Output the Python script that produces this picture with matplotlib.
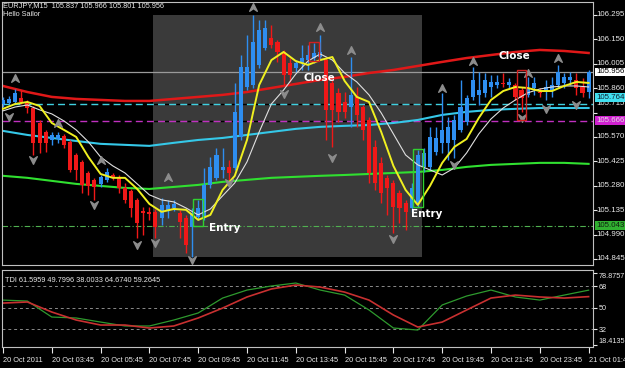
import numpy as np
import matplotlib
matplotlib.use("Agg")
import matplotlib.pyplot as plt
from matplotlib.path import Path
from matplotlib.patches import Rectangle

# EURJPY M15 candles, 20 Oct 2011 01:45 -> 21 Oct 01:45
opens = [105.766, 105.772, 105.778, 105.802, 105.778, 105.742, 105.653, 105.600, 105.552, 105.558,
         105.576, 105.541, 105.463, 105.422, 105.356, 105.315, 105.291, 105.315, 105.344, 105.333,
         105.267, 105.249, 105.196, 105.131, 105.125, 105.125, 105.089, 105.137, 105.148, 105.119,
         105.089, 105.035, 105.095, 105.089, 105.285, 105.327, 105.374, 105.392, 105.386, 105.570,
         105.867, 105.879, 105.998, 106.099, 106.158, 106.134, 106.075, 106.010, 105.980, 106.010,
         106.027, 106.039, 106.045, 106.027, 105.891, 105.832, 105.778, 105.748, 105.808, 105.748,
         105.671, 105.511, 105.416, 105.327, 105.297, 105.238, 105.178, 105.148, 105.178, 105.392,
         105.392, 105.481, 105.535, 105.535, 105.552, 105.612, 105.659, 105.808, 105.820, 105.832,
         105.867, 105.879, 105.891, 105.879, 105.879, 105.849, 105.820, 105.861, 105.837, 105.837,
         105.849, 105.879, 105.891, 105.909, 105.909, 105.867, 105.837]
highs = [105.808, 105.814, 105.855, 105.849, 105.790, 105.754, 105.671, 105.612, 105.600, 105.600,
         105.588, 105.552, 105.475, 105.434, 105.368, 105.327, 105.344, 105.386, 105.356, 105.344,
         105.297, 105.261, 105.208, 105.154, 105.154, 105.142, 105.208, 105.196, 105.196, 105.137,
         105.107, 105.148, 105.196, 105.386, 105.451, 105.505, 105.505, 105.434, 105.891, 106.057,
         106.176, 106.295, 106.265, 106.265, 106.236, 106.146, 106.087, 106.039, 106.027, 106.117,
         106.117, 106.128, 106.176, 106.045, 105.909, 105.861, 105.837, 106.045, 105.867, 105.760,
         105.689, 105.552, 105.451, 105.344, 105.315, 105.255, 105.196, 105.297, 105.493, 105.505,
         105.630, 105.630, 105.832, 105.689, 105.701, 105.909, 105.820, 105.986, 105.956, 105.950,
         105.939, 105.939, 105.950, 105.921, 105.891, 105.867, 105.927, 105.927, 105.861, 105.909,
         105.927, 105.998, 105.950, 105.956, 105.950, 105.921, 105.966]
lows = [105.748, 105.760, 105.766, 105.766, 105.713, 105.463, 105.475, 105.481, 105.523, 105.535,
        105.505, 105.362, 105.315, 105.238, 105.226, 105.196, 105.273, 105.303, 105.315, 105.238,
        105.178, 105.095, 104.970, 104.988, 105.077, 104.970, 105.047, 105.089, 105.131, 104.970,
        104.880, 104.857, 105.077, 105.077, 105.267, 105.315, 105.327, 105.315, 105.374, 105.552,
        105.849, 105.861, 105.980, 106.087, 106.099, 106.016, 105.879, 105.897, 105.956, 105.968,
        105.968, 106.010, 106.027, 105.552, 105.511, 105.659, 105.683, 105.630, 105.630, 105.552,
        105.297, 105.255, 105.178, 105.107, 104.999, 105.059, 105.017, 105.125, 105.154, 105.362,
        105.374, 105.463, 105.475, 105.434, 105.446, 105.600, 105.641, 105.790, 105.760, 105.808,
        105.808, 105.861, 105.867, 105.861, 105.790, 105.719, 105.808, 105.820, 105.808, 105.790,
        105.808, 105.861, 105.861, 105.879, 105.820, 105.808, 105.801]
closes = [105.790, 105.796, 105.832, 105.778, 105.742, 105.535, 105.535, 105.535, 105.582, 105.582,
          105.523, 105.374, 105.374, 105.285, 105.279, 105.273, 105.333, 105.362, 105.327, 105.267,
          105.196, 105.148, 105.059, 105.119, 105.113, 105.035, 105.166, 105.166, 105.172, 105.065,
          104.928, 105.119, 105.148, 105.285, 105.392, 105.463, 105.392, 105.356, 105.719, 105.986,
          105.986, 106.134, 106.206, 106.218, 106.117, 106.075, 105.939, 105.939, 106.010, 106.039,
          106.057, 106.069, 106.075, 105.731, 105.731, 105.719, 105.719, 105.820, 105.701, 105.612,
          105.356, 105.297, 105.238, 105.267, 105.154, 105.148, 105.125, 105.267, 105.463, 105.475,
          105.570, 105.564, 105.612, 105.630, 105.671, 105.748, 105.802, 105.909, 105.849, 105.909,
          105.897, 105.897, 105.885, 105.897, 105.808, 105.802, 105.861, 105.891, 105.832, 105.867,
          105.879, 105.956, 105.927, 105.927, 105.861, 105.832, 105.956]

# moving averages (every 2 bars for fast ones, every 4 for slow ones)
fast_bars = np.arange(0, 97, 2)
ma_yellow = [105.737, 105.766, 105.778, 105.754, 105.653, 105.612, 105.570, 105.451, 105.350, 105.327,
             105.327, 105.261, 105.172, 105.125, 105.142, 105.137, 105.077, 105.107, 105.255, 105.339,
             105.552, 105.879, 106.027, 106.075, 106.021, 105.998, 106.027, 106.045, 105.903, 105.808,
             105.778, 105.600, 105.398, 105.255, 105.166, 105.279, 105.416, 105.511, 105.558, 105.683,
             105.790, 105.843, 105.867, 105.861, 105.843, 105.843, 105.873, 105.897, 105.891]
ma_white = [105.725, 105.748, 105.760, 105.731, 105.707, 105.665, 105.612, 105.541, 105.451, 105.398,
            105.356, 105.291, 105.226, 105.196, 105.184, 105.148, 105.107, 105.142, 105.220, 105.297,
            105.422, 105.600, 105.766, 105.849, 105.944, 106.021, 106.063, 106.027, 105.950, 105.897,
            105.820, 105.713, 105.588, 105.463, 105.404, 105.374, 105.344, 105.386, 105.475, 105.588,
            105.677, 105.742, 105.790, 105.832, 105.855, 105.867, 105.873, 105.873, 105.867]
slow_bars = np.arange(0, 97, 4)
ma_red = [105.873, 105.837, 105.808, 105.796, 105.790, 105.784, 105.784, 105.796, 105.808, 105.820,
          105.837, 105.861, 105.885, 105.909, 105.927, 105.950, 105.968, 105.992, 106.016, 106.039,
          106.057, 106.075, 106.087, 106.081, 106.069]
ma_cyan = [105.606, 105.582, 105.564, 105.546, 105.529, 105.523, 105.517, 105.535, 105.552, 105.564,
           105.582, 105.600, 105.618, 105.630, 105.636, 105.641, 105.653, 105.671, 105.701, 105.719,
           105.731, 105.737, 105.742, 105.742, 105.742]
ma_green = [105.339, 105.327, 105.309, 105.291, 105.279, 105.267, 105.261, 105.273, 105.285, 105.303,
            105.315, 105.327, 105.333, 105.339, 105.344, 105.350, 105.356, 105.362, 105.374, 105.392,
            105.404, 105.410, 105.416, 105.416, 105.410]

# fractals
frac_up_bars = [2, 9, 16, 27, 41, 52, 57, 72, 77, 86, 91]
frac_up_price = [105.921, 105.653, 105.434, 105.333, 106.342, 106.224, 106.087, 105.861, 106.021, 105.950, 106.039]
frac_dn_bars = [1, 5, 15, 22, 25, 31, 37, 46, 54, 64, 74, 85, 89, 94]
frac_dn_price = [105.689, 105.434, 105.166, 104.928, 104.940, 104.839, 105.297, 105.826, 105.446, 104.964,
                 105.404, 105.683, 105.737, 105.760]

# horizontal levels
bid_level = 105.956
cyan_level = 105.764
magenta_level = 105.666
green_level = 105.043
price_ticks = [106.295, 106.150, 106.005, 105.860, 105.715, 105.570, 105.425, 105.280, 105.135, 104.990, 104.845]

# trade markers
entry_bars = [32, 68]
entry_lo = [105.041, 105.154]
entry_hi = [105.202, 105.499]
close_bars = [51, 85]
close_lo = [106.021, 105.671]
close_hi = [106.134, 105.968]

# TDI
tdi_bars = np.arange(0, 97, 4)
tdi_green = [56.4, 55.6, 42.2, 41.4, 38.0, 34.7, 34.7, 39.7, 45.6, 58.1, 64.8, 68.2, 70.7,
             64.8, 60.6, 48.1, 33.0, 31.3, 52.3, 59.8, 64.8, 59.0, 56.4, 60.6, 64.7]
tdi_red = [53.9, 54.8, 46.4, 39.7, 35.5, 35.5, 33.0, 34.7, 41.4, 49.7, 59.0, 65.7, 69.0,
           67.3, 63.1, 56.4, 43.9, 33.8, 38.0, 48.1, 58.1, 60.6, 59.0, 58.1, 59.3]
tdi_levels = [32, 50, 68]
tdi_ticks = [78.8757, 68, 50, 32, 18.4135]
tdi_tick_labels = ["78.8757", "68", "50", "32", "18.4135"]

time_tick_bars = np.arange(0, 97, 8)
time_labels = ["20 Oct 2011", "20 Oct 03:45", "20 Oct 05:45", "20 Oct 07:45", "20 Oct 09:45",
               "20 Oct 11:45", "20 Oct 13:45", "20 Oct 15:45", "20 Oct 17:45", "20 Oct 19:45",
               "20 Oct 21:45", "20 Oct 23:45", "21 Oct 01:45"]

small_font = 'Liberation Sans'
fs = 5.7
fg = '#e8e8e8'
frame = '#c0c0c0'

fig = plt.figure(figsize=(6.25, 3.68), dpi=100, facecolor='black')
ax = fig.add_axes([2 / 625, 1 - 265 / 368, 591 / 625, 263 / 368], facecolor='black')
ax2 = fig.add_axes([2 / 625, 1 - 347 / 368, 591 / 625, 77 / 368], facecolor='black')

xlim = (-0.16, 96.72)

# shaded zone
ax.add_patch(Rectangle((24.6, 104.857), 44.1, 106.295 - 104.857, facecolor='#3a3a3a',
                       edgecolor='none', zorder=0))

# levels
ax.axhline(bid_level, color='#9a9a9a', lw=0.9, zorder=1)
ax.axhline(cyan_level, color='#3fd0e0', lw=1.0, ls=(0, (5, 3)), gapcolor='black', zorder=1)
ax.axhline(magenta_level, color='#c030c0', lw=1.0, ls=(0, (5, 3)), gapcolor='black', zorder=1)
ax.axhline(green_level, color='#50b050', lw=0.8, ls=(0, (5, 2, 1, 2)), zorder=1)

# slow MAs
ax.plot(slow_bars, ma_red, color='#e01818', lw=1.8, zorder=2)
ax.plot(slow_bars, ma_cyan, color='#35c8e8', lw=1.5, zorder=2)
ax.plot(slow_bars, ma_green, color='#30e030', lw=1.5, zorder=2)

# candles
idx = np.arange(len(opens))
o = np.array(opens)
c = np.array(closes)
up = c >= o
colors = np.where(up, '#2e8ef0', '#f01818')
ax.vlines(idx, lows, highs, colors=colors, lw=1.0, zorder=3)
body_lo = np.minimum(o, c)
body_h = np.maximum(np.abs(c - o), 0.004)
ax.bar(idx, body_h, bottom=body_lo, width=0.66, color=colors, linewidth=0, zorder=3)

# fast MAs
ax.plot(fast_bars, ma_white, color='#e0e0e0', lw=0.8, zorder=4)
ax.plot(fast_bars, ma_yellow, color='#f0f020', lw=1.4, zorder=4)

# fractal arrows
up_arrow = Path([(0, 1), (-1, -1), (0, -0.3), (1, -1), (0, 1)],
                [Path.MOVETO, Path.LINETO, Path.LINETO, Path.LINETO, Path.CLOSEPOLY])
dn_arrow = Path([(0, -1), (-1, 1), (0, 0.3), (1, 1), (0, -1)],
                [Path.MOVETO, Path.LINETO, Path.LINETO, Path.LINETO, Path.CLOSEPOLY])
ax.plot(frac_up_bars, frac_up_price, ls='none', marker=up_arrow, ms=5.5, color='#8c8c8c', zorder=5)
ax.plot(frac_dn_bars, frac_dn_price, ls='none', marker=dn_arrow, ms=5.5, color='#8c8c8c', zorder=5)

# entry / close boxes
for b, lo, hi in zip(entry_bars, entry_lo, entry_hi):
    ax.add_patch(Rectangle((b - 0.8, lo), 1.6, hi - lo, fill=False, edgecolor='#30d030', lw=1.0, zorder=6))
for b, lo, hi in zip(close_bars, close_lo, close_hi):
    ax.add_patch(Rectangle((b - 0.8, lo), 1.6, hi - lo, fill=False, edgecolor='#d02020', lw=1.0, zorder=6))

ax.text(36.4, 105.029, "Entry", color='white', fontsize=7.5, fontweight='bold', ha='center', va='center', zorder=7)
ax.text(69.5, 105.113, "Entry", color='white', fontsize=7.5, fontweight='bold', ha='center', va='center', zorder=7)
ax.text(51.8, 105.919, "Close", color='white', fontsize=7.5, fontweight='bold', ha='center', va='center', zorder=7)
ax.text(83.8, 106.051, "Close", color='white', fontsize=7.5, fontweight='bold', ha='center', va='center', zorder=7)

ax.set_xlim(*xlim)
ax.set_ylim(104.809, 106.372)
ax.set_xticks([])
ax.yaxis.tick_right()
ax.set_yticks(price_ticks)
ax.set_yticklabels([])
ax.tick_params(axis='y', colors=fg, length=3, width=0.8)
for s in ax.spines.values():
    s.set_color(frame)
    s.set_linewidth(0.8)

ytrans = ax.get_yaxis_transform()
for v in price_ticks:
    dy = 6.5 if v == 105.715 else 0
    ax.annotate(f"{v:.3f}", xy=(1, v), xycoords=ytrans, xytext=(2.6, dy), textcoords='offset points',
                ha='left', va='center', family=small_font, fontsize=fs, color=fg, annotation_clip=False)

# right side value boxes
boxes = [(bid_level, 'white', 'black', 0), (cyan_level, '#40e0f0', '#102030', 5),
         (magenta_level, '#d020d0', '#e0e0e0', 0), (green_level, '#30b030', '#102010', 0)]
for val, bg, tc, dy in boxes:
    ax.annotate(f"{val:.3f}", xy=(1, val), xycoords=ytrans, xytext=(2.2, dy), textcoords='offset points',
                ha='left', va='center', family=small_font, fontsize=fs, color=tc, annotation_clip=False,
                bbox=dict(facecolor=bg, edgecolor='none', pad=0.7))

fig.text(3 / 625, 1 - 6 / 368, "EURJPY,M15  105.837 105.966 105.801 105.956", color=fg,
         family=small_font, fontsize=5.3, va='center')
fig.text(3 / 625, 1 - 15 / 368, "Hello Sailor", color=fg, family=small_font, fontsize=5.3, va='center')

# TDI panel
for lv in tdi_levels:
    ax2.axhline(lv, color='#8a8a8a', lw=0.7, ls=(0, (3, 3)))
ax2.plot(tdi_bars, tdi_green, color='#2e9a2e', lw=0.9)
ax2.plot(tdi_bars, tdi_red, color='#c83030', lw=1.2)
ax2.text(0.005, 1 - 10 / 77, "TDI 61.5959 49.7996 38.0033 64.6740 59.2645", transform=ax2.transAxes,
         color=fg, family=small_font, fontsize=5.3, va='center')
ax2.set_xlim(*xlim)
ax2.set_ylim(17.1, 81.6)
ax2.yaxis.tick_right()
ax2.set_yticks(tdi_ticks)
ax2.set_yticklabels(tdi_tick_labels, family=small_font, fontsize=5.2, color=fg)
ax2.tick_params(axis='y', colors=fg, length=3, width=0.8, pad=1)
tl = ax2.get_yticklabels()
tl[0].set_va('top')
tl[-1].set_va('bottom')
ax2.set_xticks(time_tick_bars)
ax2.set_xticklabels(time_labels, family=small_font, fontsize=5.3, color=fg, ha='left')
ax2.tick_params(axis='x', colors=fg, length=4, width=0.8, pad=3)
for s in ax2.spines.values():
    s.set_color(frame)
    s.set_linewidth(0.8)

fig.savefig("out.png", dpi=100, facecolor='black')
